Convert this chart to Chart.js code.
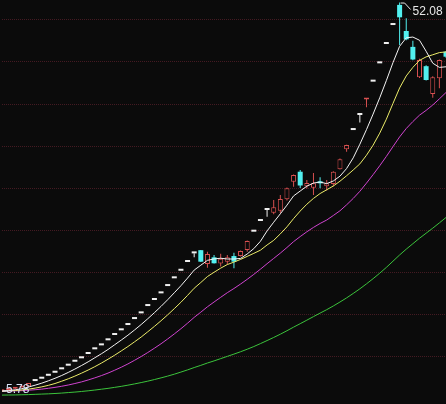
<!DOCTYPE html>
<html>
<head>
<meta charset="utf-8">
<script src="https://cdn.jsdelivr.net/npm/chart.js@4"></script>
<style>
  html, body { margin: 0; padding: 0; background: #0b0b0b; }
  #wrap { width: 446px; height: 404px; }
</style>
</head>
<body>
<div id="wrap"><canvas id="kChart" width="446" height="404"></canvas></div>
<script>
// daily candles
const opens = [
  5.80, 5.95, 6.10, 6.25, 6.40, 7.02, 7.30, 7.65, 8.01, 8.42,
  8.85, 9.32, 9.73, 10.24, 10.80, 11.27, 11.87, 12.50, 13.06, 13.69,
  14.40, 15.08, 15.95, 16.67, 17.46, 18.33, 19.25, 20.15, 21.19, 22.22,
  22.60, 20.95, 21.75, 21.00, 21.23, 21.90, 21.90, 22.62, 24.80, 26.07,
  27.38, 27.06, 27.30, 28.65, 30.75, 31.94, 30.20, 30.04, 30.75, 30.20,
  30.48, 32.23, 34.60, 36.90, 38.69, 40.55, 42.66, 44.84, 47.14, 49.40,
  51.80, 48.69, 46.80, 43.18, 44.50, 41.19, 43.06, 46.23
];
const highs = [
  6.00, 6.12, 6.28, 6.50, 6.79, 7.02, 7.30, 7.65, 8.01, 8.42,
  8.85, 9.32, 9.73, 10.24, 10.80, 11.27, 11.87, 12.50, 13.06, 13.69,
  14.40, 15.08, 15.95, 16.67, 17.46, 18.33, 19.25, 20.15, 21.19, 22.22,
  22.62, 22.42, 22.02, 22.18, 22.02, 22.30, 22.55, 23.75, 24.80, 26.07,
  27.38, 28.57, 29.17, 30.05, 31.60, 32.14, 30.95, 31.80, 31.27, 30.95,
  32.00, 33.50, 35.15, 36.90, 38.69, 40.62, 42.66, 44.84, 47.14, 49.40,
  52.08, 50.20, 47.54, 45.40, 44.60, 43.30, 45.30, 46.30
];
const lows = [
  5.78, 5.92, 6.06, 6.22, 6.36, 7.02, 7.30, 7.65, 8.01, 8.42,
  8.85, 9.32, 9.73, 10.24, 10.80, 11.27, 11.87, 12.50, 13.06, 13.69,
  14.40, 15.08, 15.95, 16.67, 17.46, 18.33, 19.25, 20.15, 21.19, 21.75,
  21.20, 20.50, 21.00, 20.67, 20.90, 20.44, 21.85, 22.42, 24.80, 26.07,
  26.58, 26.87, 26.99, 28.50, 30.16, 30.00, 29.95, 29.17, 29.96, 29.70,
  30.20, 32.20, 34.32, 36.90, 37.80, 39.60, 42.66, 44.84, 47.14, 49.40,
  47.02, 47.60, 45.20, 43.10, 42.80, 40.75, 41.87, 45.50
];
const closes = [
  5.95, 6.10, 6.25, 6.47, 6.79, 7.02, 7.30, 7.65, 8.01, 8.42,
  8.85, 9.32, 9.73, 10.24, 10.80, 11.27, 11.87, 12.50, 13.06, 13.69,
  14.40, 15.08, 15.95, 16.67, 17.46, 18.33, 19.25, 20.15, 21.19, 22.22,
  21.23, 22.14, 21.04, 21.57, 21.75, 21.23, 22.50, 23.69, 24.80, 26.07,
  27.38, 27.70, 28.69, 29.96, 31.55, 30.30, 30.60, 30.56, 30.56, 30.56,
  31.94, 33.42, 35.12, 36.90, 38.69, 40.62, 42.66, 44.84, 47.14, 49.40,
  50.32, 47.70, 45.30, 45.24, 42.86, 43.18, 45.24, 45.63
];

// moving averages as drawn (white / yellow / magenta / green)
const ma5 = [
  5.83, 5.89, 5.98, 6.11, 6.31, 6.53, 6.77, 7.05, 7.35, 7.68,
  8.05, 8.45, 8.87, 9.31, 9.79, 10.27, 10.78, 11.34, 11.90, 12.48,
  13.10, 13.75, 14.44, 15.16, 15.91, 16.70, 17.53, 18.37, 19.28, 20.23,
  20.81, 21.39, 21.56, 21.64, 21.55, 21.55, 21.62, 22.15, 22.79, 23.66,
  24.89, 25.93, 26.93, 27.96, 29.06, 29.64, 30.22, 30.59, 30.71, 30.52,
  30.84, 31.41, 32.32, 33.59, 35.21, 36.95, 38.80, 40.74, 42.79, 44.93,
  46.87, 47.88, 47.97, 47.59, 46.28, 44.86, 44.36, 44.43
];
const ma10 = [
  5.82, 5.85, 5.89, 5.96, 6.06, 6.18, 6.33, 6.51, 6.73, 7.00,
  7.29, 7.61, 7.96, 8.33, 8.73, 9.16, 9.62, 10.10, 10.61, 11.13,
  11.69, 12.26, 12.89, 13.53, 14.20, 14.90, 15.64, 16.40, 17.22, 18.07,
  18.75, 19.46, 19.97, 20.46, 20.89, 21.18, 21.50, 21.86, 22.22, 22.60,
  23.22, 23.77, 24.54, 25.38, 26.36, 27.26, 28.07, 28.76, 29.34, 29.79,
  30.24, 30.81, 31.46, 32.15, 32.87, 33.90, 35.10, 36.53, 38.19, 40.07,
  41.91, 43.34, 44.36, 45.19, 45.61, 45.86, 46.12, 46.20
];
const ma20 = [
  5.81, 5.82, 5.85, 5.88, 5.93, 5.99, 6.06, 6.16, 6.27, 6.40,
  6.55, 6.73, 6.92, 7.15, 7.40, 7.67, 7.97, 8.31, 8.67, 9.06,
  9.49, 9.94, 10.42, 10.93, 11.46, 12.03, 12.63, 13.25, 13.91, 14.60,
  15.22, 15.86, 16.43, 16.99, 17.54, 18.04, 18.57, 19.13, 19.72, 20.34,
  20.99, 21.62, 22.25, 22.92, 23.62, 24.22, 24.79, 25.31, 25.78, 26.19,
  26.73, 27.29, 28.00, 28.76, 29.61, 30.58, 31.59, 32.65, 33.76, 34.93,
  36.08, 37.08, 37.91, 38.67, 39.24, 39.88, 40.61, 41.37
];
const ma60 = [
  5.35, 5.36, 5.37, 5.39, 5.41, 5.44, 5.47, 5.50, 5.54, 5.59,
  5.65, 5.71, 5.78, 5.86, 5.95, 6.05, 6.15, 6.27, 6.39, 6.53,
  6.68, 6.84, 7.01, 7.20, 7.40, 7.61, 7.84, 8.09, 8.35, 8.63,
  8.89, 9.17, 9.42, 9.69, 9.96, 10.23, 10.51, 10.81, 11.13, 11.48,
  11.84, 12.21, 12.60, 13.01, 13.44, 13.85, 14.27, 14.69, 15.11, 15.52,
  15.96, 16.43, 16.92, 17.45, 18.00, 18.59, 19.21, 19.86, 20.55, 21.29,
  22.03, 22.72, 23.37, 24.02, 24.62, 25.22, 25.85, 26.49
];

const days = closes.map((_, i) => 'D' + (i + 1));

const BG = '#0b0b0b';
const RED = '#d85050';
const CYAN = '#52f0f0';
const WHITE = '#f0f0f0';

const isUp = i => closes[i] > opens[i];
const isDown = i => closes[i] < opens[i];
const candleColor = i => isUp(i) ? RED : (isDown(i) ? CYAN : WHITE);

// background fill
const bgPlugin = {
  id: 'bg',
  beforeDraw(chart) {
    const c = chart.ctx;
    c.save();
    c.fillStyle = BG;
    c.fillRect(0, 0, chart.width, chart.height);
    c.restore();
  }
};

// high / low price marks
const extremaPlugin = {
  id: 'extrema',
  afterDatasetsDraw(chart) {
    const c = chart.ctx;
    const xs = chart.scales.x, ys = chart.scales.y;
    const hiVal = Math.max(...highs), loVal = Math.min(...lows);
    const hi = highs.indexOf(hiVal), lo = lows.indexOf(loVal);
    c.save();
    c.font = '12px "Liberation Sans", Arial, sans-serif';
    c.textBaseline = 'middle';
    c.lineWidth = 1;

    const hx = xs.getPixelForValue(hi), hy = ys.getPixelForValue(hiVal);
    c.strokeStyle = '#e8e8e8';
    c.beginPath();
    c.moveTo(hx + 1, hy + 0.5);
    c.lineTo(hx + 5, hy + 0.5);
    c.lineTo(hx + 11, hy + 7);
    c.stroke();
    c.fillStyle = '#e8e8e8';
    c.fillText(hiVal.toFixed(2), hx + 13, hy + 9);

    const lx = xs.getPixelForValue(lo), ly = ys.getPixelForValue(loVal);
    c.strokeStyle = '#d8e4f8';
    c.beginPath();
    c.moveTo(lx + 1, ly - 0.5);
    c.lineTo(lx + 4, ly - 0.5);
    c.stroke();
    c.fillStyle = '#d8e4f8';
    c.fillText(loVal.toFixed(2), lx + 4, ly - 2);
    c.restore();
  }
};

const maLine = (data, color) => ({
  type: 'line',
  data: data,
  borderColor: color,
  borderWidth: 1,
  pointRadius: 0,
  tension: 0,
  order: 0
});

new Chart(document.getElementById('kChart'), {
  type: 'bar',
  data: {
    labels: days,
    datasets: [
      {
        // shadows
        data: lows.map((l, i) => [l, highs[i]]),
        backgroundColor: ctx => candleColor(ctx.dataIndex),
        borderWidth: 0,
        barThickness: 1,
        grouped: false,
        inflateAmount: 0,
        order: 2
      },
      {
        // bodies
        data: opens.map((o, i) => [Math.min(o, closes[i]), Math.max(o, closes[i])]),
        backgroundColor: ctx => isUp(ctx.dataIndex) ? BG : candleColor(ctx.dataIndex),
        borderColor: ctx => candleColor(ctx.dataIndex),
        borderWidth: ctx => isUp(ctx.dataIndex) ? 1 : 0,
        borderSkipped: false,
        barThickness: 5,
        minBarLength: 2,
        grouped: false,
        inflateAmount: 0,
        order: 1
      },
      maLine(ma5, '#f4f4f4'),
      maLine(ma10, '#ecec6a'),
      maLine(ma20, '#d044d0'),
      maLine(ma60, '#3cc43c')
    ]
  },
  options: {
    responsive: false,
    animation: false,
    devicePixelRatio: 1,
    layout: { autoPadding: false, padding: { left: 2, right: 0, top: 0, bottom: 0 } },
    plugins: {
      legend: { display: false },
      tooltip: { enabled: false }
    },
    scales: {
      x: {
        type: 'category',
        offset: false,
        display: false
      },
      y: {
        min: 4.29,
        max: 52.38,
        ticks: { display: false, stepSize: 5 },
        afterBuildTicks: s => {
          s.ticks = s.ticks.filter(t => Math.abs(t.value / 5 - Math.round(t.value / 5)) < 1e-6);
        },
        grid: { color: '#441a22', lineWidth: 1, drawTicks: false },
        border: { display: false, dash: [1, 1] }
      }
    }
  },
  plugins: [bgPlugin, extremaPlugin]
});
</script>
</body>
</html>
